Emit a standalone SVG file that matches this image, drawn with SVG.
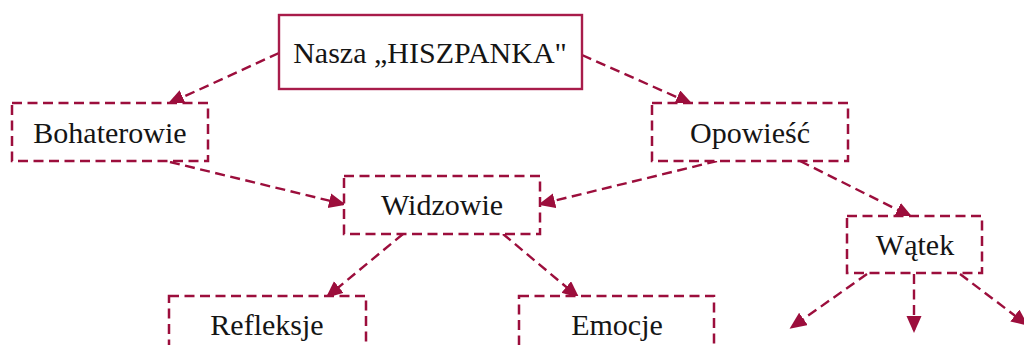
<svg xmlns="http://www.w3.org/2000/svg" width="1024" height="345" viewBox="0 0 1024 345">
<style>
.box{fill:#fff;stroke:#9c0e3c;stroke-width:2.5;stroke-dasharray:10,5.5}
.solid{fill:#fff;stroke:#a81c4a;stroke-width:2.4}
.lbl{font-family:"Liberation Serif","Times New Roman",serif;font-size:30px;fill:#151515;text-anchor:middle}
.c{fill:none;stroke:#9c0e3c;stroke-width:2.4;stroke-dasharray:10,5.5}
</style>
<defs>
<marker id="ah" markerUnits="userSpaceOnUse" markerWidth="18" markerHeight="16" refX="14" refY="7.5" orient="auto">
<path d="M0,0 L17,7.5 L0,15 z" fill="#9c0e3c"/>
</marker>
</defs>
<rect width="1024" height="345" fill="#fff"/>
<g id="connectors">
<path class="c" d="M279,53 L170,103" marker-end="url(#ah)"/>
<path class="c" d="M582,55 L690,103" marker-end="url(#ah)"/>
<path class="c" d="M170,162 L343,204" marker-end="url(#ah)"/>
<path class="c" d="M717,161 L541,204" marker-end="url(#ah)"/>
<path class="c" d="M800,161 L910,216" marker-end="url(#ah)"/>
<path class="c" d="M403,234 L328,296" marker-end="url(#ah)"/>
<path class="c" d="M503,234 L577,296" marker-end="url(#ah)"/>
<path class="c" d="M867,274 L792,327" marker-end="url(#ah)"/>
<path class="c" d="M914,274 L914,330" marker-end="url(#ah)"/>
<path class="c" d="M960,274 L1026,324" marker-end="url(#ah)"/>
</g>
<g id="node-top">
<rect class="solid" x="279" y="15" width="303" height="74"/>
<text class="lbl" x="430" y="63">Nasza „HISZPANKA"</text>
</g>
<g id="node-bohaterowie">
<rect class="box" x="12" y="103" width="196" height="58"/>
<text class="lbl" x="110" y="143">Bohaterowie</text>
</g>
<g id="node-opowiesc">
<rect class="box" x="652" y="103" width="196" height="58"/>
<text class="lbl" x="750" y="143">Opowieść</text>
</g>
<g id="node-widzowie">
<rect class="box" x="344" y="176" width="196" height="58"/>
<text class="lbl" x="442" y="215">Widzowie</text>
</g>
<g id="node-watek">
<rect class="box" x="847" y="216" width="135" height="57"/>
<text class="lbl" x="915" y="255">Wątek</text>
</g>
<g id="node-refleksje">
<rect class="box" x="169" y="296" width="197" height="70"/>
<text class="lbl" x="267" y="335">Refleksje</text>
</g>
<g id="node-emocje">
<rect class="box" x="519" y="296" width="195" height="70"/>
<text class="lbl" x="617" y="335">Emocje</text>
</g>
</svg>
